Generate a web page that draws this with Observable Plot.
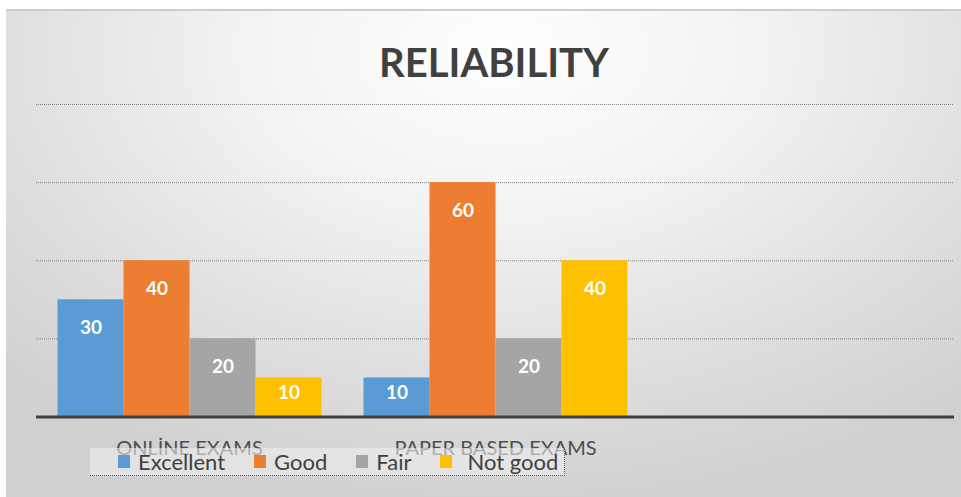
<!DOCTYPE html>
<html><head><meta charset="utf-8">
<script src="https://cdn.jsdelivr.net/npm/d3@7"></script>
<script src="https://cdn.jsdelivr.net/npm/@observablehq/plot@0.6"></script>
<style>
body{margin:0;background:#fff;font-family:Lato,"Open Sans",sans-serif;}
#wrap{position:relative;width:961px;height:497px;overflow:hidden;background:#fff;}
#frame{position:absolute;left:6px;top:9px;right:0;bottom:0;background:radial-gradient(ellipse 75% 95% at 52% 8%, #ffffff 0%, #f3f3f3 35%, #dedede 72%, #d0d0d0 100%);border-top:2px solid #cdcdcd;}
#title{position:absolute;left:35px;width:918px;top:41.5px;line-height:40px;text-align:center;font-weight:700;font-size:40px;color:#404040;}
#chart{position:absolute;left:0;top:90px;}
#legend{position:absolute;left:90px;top:448px;width:475px;height:28px;box-sizing:border-box;background:rgba(238,238,238,0.6);border-right:1px dotted #555;border-bottom:1px dotted #555;display:flex;align-items:center;padding-left:28px;font-size:22px;line-height:28px;color:#404040;white-space:nowrap;}
.item{display:flex;align-items:center;margin-right:29px;white-space:nowrap;}
.sw{width:12px;height:13px;margin-right:8px;flex:none;}
.item:last-child .sw{margin-right:15px;}
</style></head>
<body>
<div id="wrap">
  <div id="frame"></div>
  <div id="title">RELIABILITY</div>
  <div id="chart"></div>
  <div id="legend"></div>
</div>
<script>
const categories = ["ONLİNE EXAMS", "PAPER BASED EXAMS", " "];
const series = ["Excellent", "Good", "Fair", "Not good"];
const onlineValues = [30, 40, 20, 10];
const paperValues = [10, 60, 20, 40];
const colors = ["#5b9bd5", "#ed7d31", "#a5a5a5", "#ffc000"];
const gridTicks = [20, 40, 60, 80];

const rows = [];
series.forEach((s, i) => {
  rows.push({category: categories[0], series: s, value: onlineValues[i]});
  rows.push({category: categories[1], series: s, value: paperValues[i]});
});
const gridRows = categories.flatMap(c => gridTicks.map(t => ({category: c, tick: t})));
const baseRows = categories.map(c => ({category: c, tick: 0}));
const labelY = v => Math.max(v - 7.2, v * 0.62);

const chart = Plot.plot({
  width: 961, height: 380,
  marginTop: 14, marginBottom: 53.5, marginLeft: 35.5, marginRight: 7.5,
  style: {background: "transparent", fontFamily: "Lato, sans-serif"},
  fx: {domain: categories, padding: 0, label: null},
  x: {domain: series, paddingInner: 0, paddingOuter: 0.318, axis: null},
  y: {domain: [0, 80], axis: null},
  color: {domain: series, range: colors},
  marks: [
    Plot.ruleY(gridRows, {fx: "category", y: "tick", stroke: "#7f7f7f", strokeDasharray: "1,1"}),
    Plot.barY(rows, {fx: "category", x: "series", y: "value", fill: "series"}),
    Plot.text(rows, {fx: "category", x: "series", y: d => labelY(d.value), text: "value", fill: "white", fontSize: 19, fontWeight: "bold"}),
    Plot.ruleY(baseRows, {fx: "category", y: "tick", stroke: "#404040", strokeWidth: 3}),
    Plot.axisFx({anchor: "bottom", tickSize: 0, tickPadding: 24, fontSize: 20, fill: "#4d4d4d", label: null})
  ]
});
document.getElementById("chart").appendChild(chart);

const legend = document.getElementById("legend");
series.forEach((s, i) => {
  const it = document.createElement("div");
  it.className = "item";
  const sw = document.createElement("span");
  sw.className = "sw";
  sw.style.background = colors[i];
  const t = document.createElement("span");
  t.textContent = s;
  it.appendChild(sw); it.appendChild(t);
  legend.appendChild(it);
});
</script>
</body></html>
